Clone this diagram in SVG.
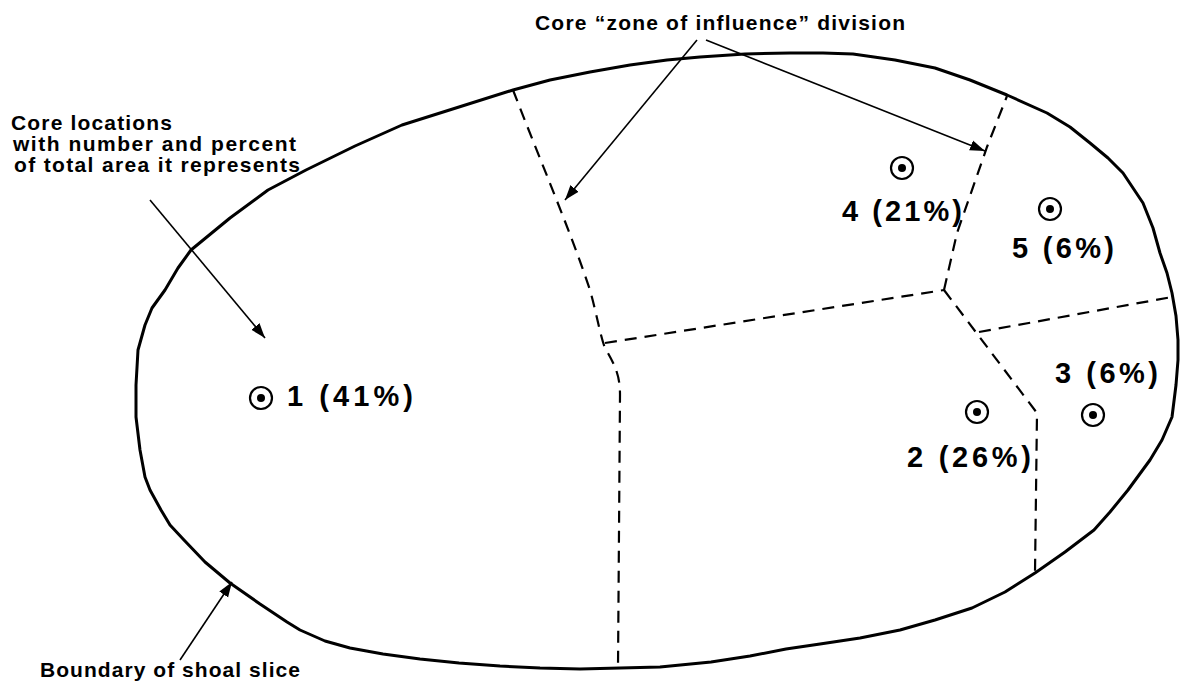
<svg xmlns="http://www.w3.org/2000/svg" width="1183" height="687" viewBox="0 0 1183 687">
<style>
.bnd{fill:none;stroke:#000;stroke-width:3;stroke-linejoin:round;stroke-linecap:round}
.dash{fill:none;stroke:#000;stroke-width:2.2;stroke-dasharray:12 8}
.lead{fill:none;stroke:#000;stroke-width:1.6}
.lbl{font-family:"Liberation Sans",Arial,sans-serif;font-weight:bold;font-size:21px;fill:#000}
.core{font-family:"Liberation Sans",Arial,sans-serif;font-weight:bold;font-size:29px;fill:#000}
.ring{fill:none;stroke:#000;stroke-width:2.2}
</style>
<defs>
<marker id="ahb" viewBox="0 0 10 10" refX="10" refY="5" markerWidth="15" markerHeight="15" markerUnits="userSpaceOnUse" orient="auto"><path d="M0,1.5 L10,5 L0,8.5 Z" fill="#000"/></marker>
</defs>
<rect width="1183" height="687" fill="#fff"/>
<g id="boundary">
<path class="bnd" d="M191,250 L230,218 L268,190 L306,170 L355,146 L402,125 L459,107 L513,90 L550,80 L590,72 L630,65 L667,60 L700,57 L745,54 L790,53 L823,53 L853,54 L895,60 L935,68 L970,80 L1007,95 L1047,113 L1070,127 L1090,143 L1108,158 L1123,173 L1143,203 L1153,228 L1160,253 L1167,273 L1172,293 L1176,316 L1178,340 L1178,360 L1176,385 L1172,417 L1162,440 L1150,460 L1128,490 L1110,512 L1094,530 L1065,552 L1035,573 L1005,592 L972,608 L935,620 L900,630 L860,638 L820,644 L786,649 L750,656 L711,662 L660,667 L620,668 L580,669 L540,668 L500,666 L459,663 L420,659 L383,654 L350,648 L325,641 L300,630 L287,622 L260,604 L230,583 L205,562 L184,540 L170,525 L161,510 L150,490 L145,477 L140,450 L136,417 L136,385 L138,350 L145,325 L152,308 L165,290 L178,268 Z"/>
</g>
<g id="divisions">
<path class="dash" d="M513,90 C540,160 570,230 590,290 C597,315 600,335 605,348 C615,365 620,375 620,395 L618,668"/>
<path class="dash" d="M605,343 L944,290"/>
<path class="dash" d="M944,290 L957,233 L987,147 L1007,96"/>
<path class="dash" d="M944,290 L1037,413 L1035,573"/>
<path class="dash" d="M979,332 L1172,297"/>
</g>
<g id="core1"><circle class="ring" cx="261" cy="398" r="11"/><circle cx="261" cy="398" r="4"/><text class="core" x="287" y="406" textLength="126" lengthAdjust="spacing">1 (41%)</text></g>
<g id="core2"><circle class="ring" cx="977" cy="412" r="11"/><circle cx="977" cy="412" r="4"/><text class="core" x="907" y="467" textLength="124" lengthAdjust="spacing">2 (26%)</text></g>
<g id="core3"><circle class="ring" cx="1093" cy="415" r="11"/><circle cx="1093" cy="415" r="4"/><text class="core" x="1055" y="383" textLength="103" lengthAdjust="spacing">3 (6%)</text></g>
<g id="core4"><circle class="ring" cx="902" cy="168" r="11"/><circle cx="902" cy="168" r="4"/><text class="core" x="842" y="221" textLength="120" lengthAdjust="spacing">4 (21%)</text></g>
<g id="core5"><circle class="ring" cx="1050" cy="209" r="11"/><circle cx="1050" cy="209" r="4"/><text class="core" x="1012" y="258" textLength="102" lengthAdjust="spacing">5 (6%)</text></g>
<g id="label-zone"><text class="lbl" x="535" y="30" textLength="370" lengthAdjust="spacing">Core “zone of influence” division</text></g>
<g id="label-core"><text class="lbl" x="11" y="130" textLength="161" lengthAdjust="spacing">Core locations</text><text class="lbl" x="13" y="151" textLength="283" lengthAdjust="spacing">with number and percent</text><text class="lbl" x="14" y="172" textLength="286" lengthAdjust="spacing">of total area it represents</text></g>
<g id="label-boundary"><text class="lbl" x="40" y="677" textLength="260" lengthAdjust="spacing">Boundary of shoal slice</text></g>
<g id="connectors">
<path class="lead" d="M697,40 L565,200" marker-end="url(#ahb)"/>
<path class="lead" d="M706,40 L985,151" marker-end="url(#ahb)"/>
<path class="lead" d="M150,200 L265,338" marker-end="url(#ahb)"/>
<path class="lead" d="M180,660 L232,582" stroke-width="2.5" marker-end="url(#ahb)"/>
</g>
</svg>
